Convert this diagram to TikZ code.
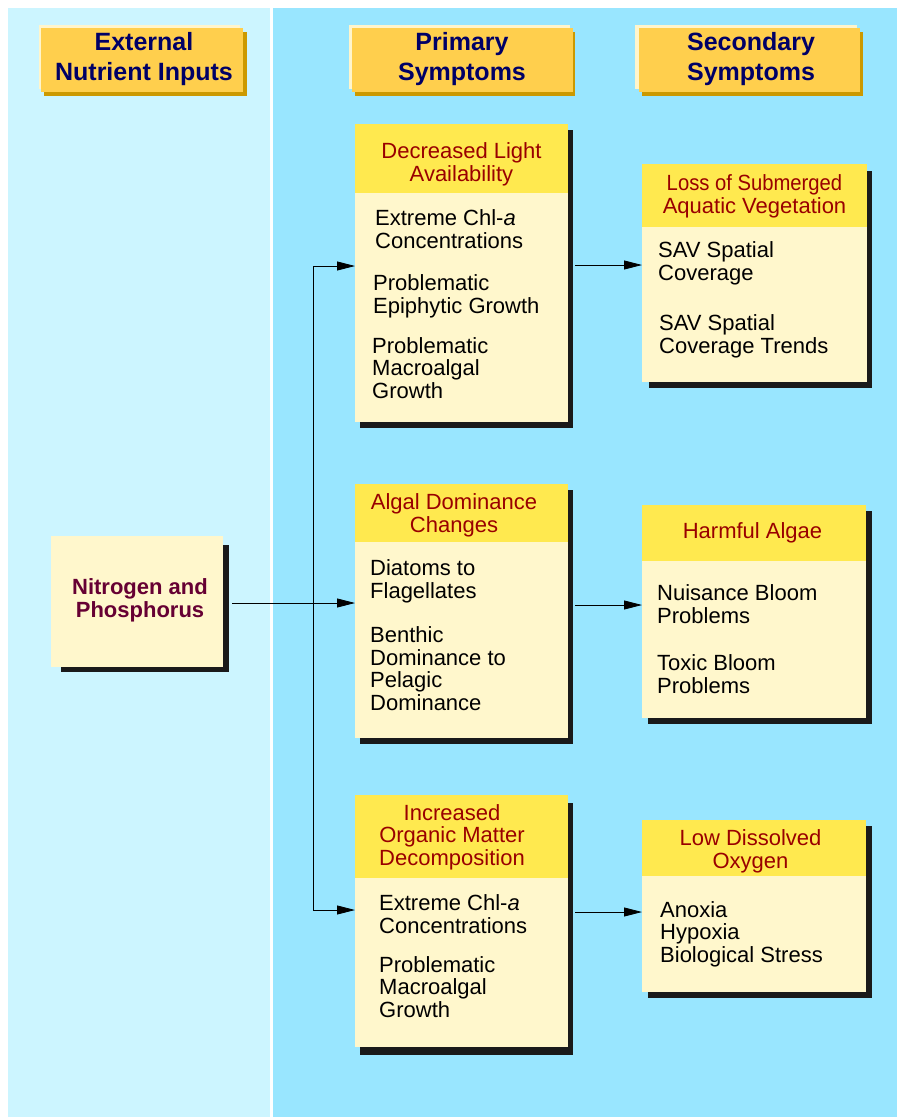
\documentclass[tikz,border=0pt]{standalone}
\usepackage{fontspec}
\setmainfont{Liberation Sans}
\usetikzlibrary{arrows.meta}
\definecolor{leftbg}{HTML}{CCF5FF}
\definecolor{rightbg}{HTML}{99E6FF}
\definecolor{hdrc}{HTML}{FFCF4D}
\definecolor{hdrshadow}{HTML}{CC9900}
\definecolor{hdrhl}{HTML}{FFF5CC}
\definecolor{navy}{HTML}{000066}
\definecolor{yel}{HTML}{FFE94F}
\definecolor{cream}{HTML}{FFF7CC}
\definecolor{titlered}{HTML}{990000}
\definecolor{shadowc}{HTML}{1A1A1A}
\definecolor{maroon}{HTML}{660033}
\begin{document}
\begin{tikzpicture}[x=1pt,y=-1pt,
  body/.style={fill=cream, inner sep=0pt, outer sep=0pt},
  shade/.style={fill=shadowc},
  band/.style={fill=yel},
  ttl/.style={anchor=base, align=center, text=titlered, font=\fontsize{22}{22.5}\selectfont, inner sep=0pt},
  itm/.style={anchor=base west, align=left, text=black, font=\fontsize{22}{22.4}\selectfont, inner sep=0pt},
  hdr/.style={fill=hdrc, inner sep=0pt, outer sep=0pt},
  hdrtxt/.style={anchor=base, align=center, text=navy, font=\bfseries\fontsize{25}{30}\selectfont, inner sep=0pt},
  conn/.style={draw=black, line width=0.8pt},
  arr/.style={conn, -{Triangle[length=18pt,width=9pt]}}
]
\useasboundingbox (0,0) rectangle (897,1117);
\fill[white] (0,0) rectangle (897,1117);
% panels
\fill[leftbg] (8,8) rectangle (270,1117);
\fill[rightbg] (273,8) rectangle (897,1117);

% column headers
\fill[hdrhl] (39,25) rectangle (240,89);
\fill[hdrshadow] (44,32) rectangle (247,96);
\node[hdr, minimum width=202, minimum height=64] (h1) at (142,60) {};
\node[hdrtxt] (h1t) at (144,80) {External\\Nutrient Inputs};

\fill[hdrhl] (349,25) rectangle (570,89);
\fill[hdrshadow] (355,32) rectangle (575,96);
\node[hdr, minimum width=221, minimum height=64] (h2) at (462.5,60) {};
\node[hdrtxt] (h2t) at (462,80) {Primary\\Symptoms};

\fill[hdrhl] (635,25) rectangle (857,89);
\fill[hdrshadow] (642,32) rectangle (863,96);
\node[hdr, minimum width=221, minimum height=64] (h3) at (749.5,60) {};
\node[hdrtxt] (h3t) at (751,80) {Secondary\\Symptoms};

% Nitrogen and Phosphorus
\fill[shade] (61,545) rectangle (229,672);
\node[body, minimum width=172, minimum height=131] (np) at (137,601.5) {};
\node[anchor=base, align=center, text=maroon, font=\bfseries\fontsize{22}{23}\selectfont, inner sep=0pt] (npt) at (140,617) {Nitrogen and\\Phosphorus};

% Primary 1
\fill[shade] (360,130) rectangle (573,428);
\node[body, minimum width=213, minimum height=298] (p1) at (461.5,273) {};
\fill[band] (p1.north west) rectangle (p1.east |- 0,193);
\node[ttl] (p1t) at (461.5,181) {Decreased Light\\Availability};
\node[itm] (p1a) at (375,248) {Extreme Chl-\textit{a}\\Concentrations};
\node[itm] (p1b) at (373,313) {Problematic\\Epiphytic Growth};
\node[itm] (p1c) at (372,398) {Problematic\\Macroalgal\\Growth};

% Primary 2
\fill[shade] (360,490) rectangle (573,744);
\node[body, minimum width=213, minimum height=254] (p2) at (461.5,611) {};
\fill[band] (p2.north west) rectangle (p2.east |- 0,542);
\node[ttl] (p2t) at (454,532) {Algal Dominance\\Changes};
\node[itm] (p2a) at (370,598) {Diatoms to\\Flagellates};
\node[itm] (p2b) at (370,710) {Benthic\\Dominance to\\Pelagic\\Dominance};

% Primary 3
\fill[shade] (360,803) rectangle (573,1055);
\node[body, minimum width=213, minimum height=252] (p3) at (461.5,921) {};
\fill[band] (p3.north west) rectangle (p3.east |- 0,878);
\node[ttl] (p3t) at (452,865) {Increased\\Organic Matter\\Decomposition};
\node[itm] (p3a) at (379,933) {Extreme Chl-\textit{a}\\Concentrations};
\node[itm] (p3b) at (379,1017) {Problematic\\Macroalgal\\Growth};

% Secondary 1
\fill[shade] (649,171) rectangle (872,388);
\node[body, minimum width=225, minimum height=218] (s1) at (754.5,273) {};
\fill[band] (s1.north west) rectangle (s1.east |- 0,227);
\node[ttl] (s1t) at (754.5,213) {\scalebox{0.92}[1]{Loss of Submerged}\\Aquatic Vegetation};
\node[itm] (s1a) at (658,280) {SAV Spatial\\Coverage};
\node[itm] (s1b) at (659,353) {SAV Spatial\\Coverage Trends};

% Secondary 2
\fill[shade] (648,511) rectangle (872,724);
\node[body, minimum width=224, minimum height=213] (s2) at (754,611.5) {};
\fill[band] (s2.north west) rectangle (s2.east |- 0,561);
\node[ttl] (s2t) at (752.5,538) {Harmful Algae};
\node[itm] (s2a) at (657,623) {Nuisance Bloom\\Problems};
\node[itm] (s2b) at (657,693) {Toxic Bloom\\Problems};

% Secondary 3
\fill[shade] (648,826) rectangle (872,998);
\node[body, minimum width=224, minimum height=172] (s3) at (754,906) {};
\fill[band] (s3.north west) rectangle (s3.east |- 0,876);
\node[ttl] (s3t) at (750.5,868) {Low Dissolved\\Oxygen};
\node[itm] (s3a) at (660,962) {Anoxia\\Hypoxia\\Biological Stress};

% connectors
\coordinate (b1) at (313,266);
\coordinate (b3) at (313,910);
\coordinate (j) at (313,603);
\draw[conn] (b1) -- (b3);
\draw[arr] (b1) -- (b1 -| p1.west);
\draw[arr] (b3) -- (b3 -| p3.west);
\draw[arr] ([shift={(9,1.5)}]np.east) -- (j -| p2.west);
\coordinate (r1) at (575,265);
\coordinate (r2) at (575,605);
\coordinate (r3) at (575,912);
\draw[arr] (r1) -- (r1 -| s1.west);
\draw[arr] (r2) -- (r2 -| s2.west);
\draw[arr] (r3) -- (r3 -| s3.west);
\end{tikzpicture}
\end{document}
